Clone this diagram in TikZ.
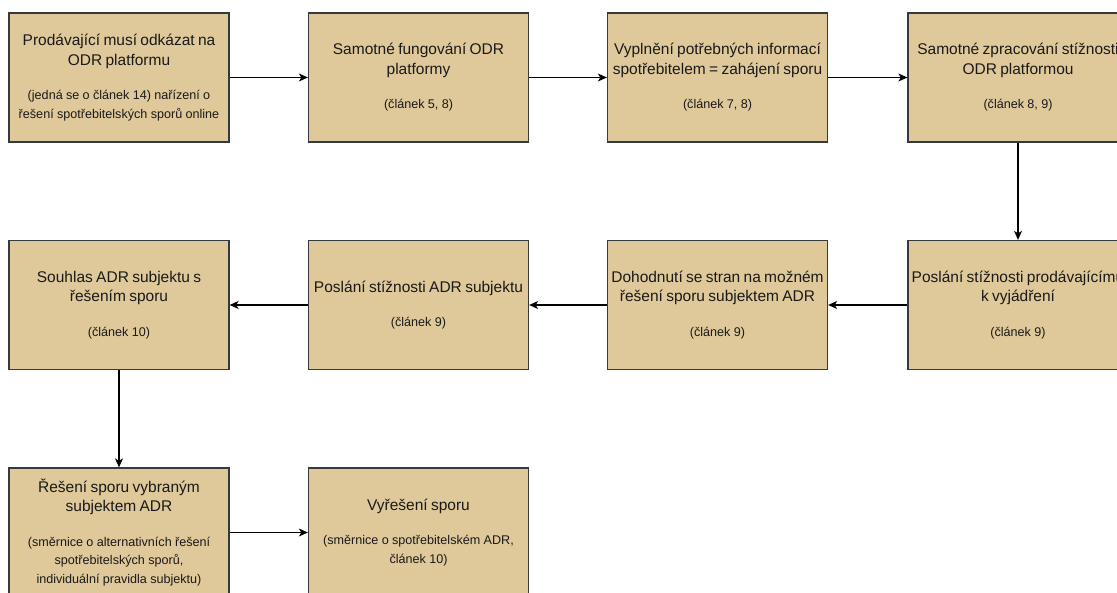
\documentclass[tikz,border=0pt]{standalone}
\usepackage{fontspec}
\setmainfont{Liberation Sans}
\usetikzlibrary{arrows.meta}
\definecolor{boxfill}{HTML}{DFC899}
\definecolor{boxline}{HTML}{36393D}
\definecolor{ink}{HTML}{1A1A1A}
\newcommand\hd[1]{{\fontsize{15.5}{19.5}\selectfont #1\par}}
\newcommand\nt[1]{{\fontsize{12.6}{18.5}\selectfont #1\par}}
\tikzset{stage/.style={rectangle,draw=boxline,fill=boxfill,line width=1.3pt,minimum width=220pt,minimum height=129pt,inner sep=0pt,text width=216pt,align=center,text=ink},
flow/.style={-{Stealth[length=9pt,width=8pt,inset=2.5pt]},line width=1.1pt}}

\begin{document}
\begin{tikzpicture}[x=1pt,y=-1pt]
\useasboundingbox (0,0) rectangle (1117,593);
\node[stage] (p1) at (119,77.5) {\hd{Prodávající musí odkázat na\\ODR platformu}\vspace{16pt}\nt{(jedná se o článek 14) nařízení o\\řešení spotřebitelských sporů online}};
\node[stage] (p2) at (418.5,77.5) {\hd{Samotné fungování ODR\\platformy}\vspace{16pt}\nt{(článek 5, 8)}};
\node[stage] (p3) at (717.5,77.5) {\hd{Vyplnění potřebných informací\\spotřebitelem = zahájení sporu}\vspace{16pt}\nt{(článek 7, 8)}};
\node[stage] (p4) at (1018,77.5) {\hd{Samotné zpracování stížnosti\\ODR platformou}\vspace{16pt}\nt{(článek 8, 9)}};
\node[stage] (q1) at (1018,305) {\hd{Poslání stížnosti prodávajícímu\\k vyjádření}\vspace{16pt}\nt{(článek 9)}};
\node[stage] (q2) at (717.5,305) {\hd{Dohodnutí se stran na možném\\řešení sporu subjektem ADR}\vspace{16pt}\nt{(článek 9)}};
\node[stage] (q3) at (418.5,305) {\hd{Poslání stížnosti ADR subjektu}\vspace{16pt}\nt{(článek 9)}};
\node[stage] (q4) at (119,305) {\hd{Souhlas ADR subjektu s\\řešením sporu}\vspace{16pt}\nt{(článek 10)}};
\node[stage] (r1) at (119,532.5) {\hd{Řešení sporu vybraným\\subjektem ADR}\vspace{16pt}\nt{(směrnice o alternativních řešení\\spotřebitelských sporů,\\individuální pravidla subjektu)}};
\node[stage] (r2) at (418.5,532.5) {\hd{Vyřešení sporu}\vspace{16pt}\nt{(směrnice o spotřebitelském ADR,\\článek 10)}};
\draw[flow] (p1) edge (p2) (p2) edge (p3) (p3) edge (p4)
(p4) edge (q1)
(q1) edge (q2) (q2) edge (q3) (q3) edge (q4)
(q4) edge (r1)
(r1) edge (r2);
\end{tikzpicture}
\end{document}
